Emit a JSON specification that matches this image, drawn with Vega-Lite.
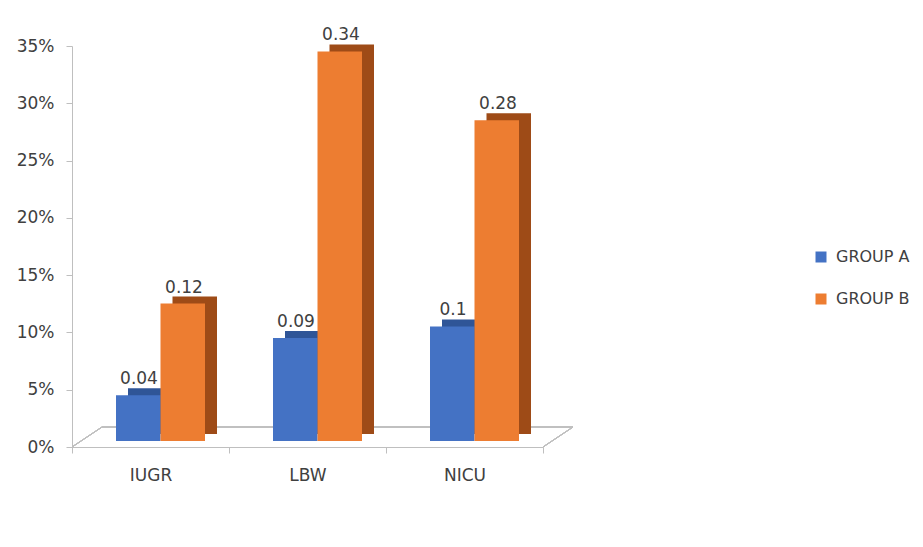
{
  "$schema": "https://vega.github.io/schema/vega-lite/v6.json",
  "autosize": "none",
  "width": 471,
  "height": 401,
  "padding": {"left": 72, "top": 46, "right": 380, "bottom": 100},
  "background": "white",
  "config": {
    "view": {"stroke": null},
    "font": "DejaVu Sans"
  },
  "data": {
    "values": [
      {"category": "IUGR", "group": "GROUP A", "value": 0.04},
      {"category": "IUGR", "group": "GROUP B", "value": 0.12},
      {"category": "LBW", "group": "GROUP A", "value": 0.09},
      {"category": "LBW", "group": "GROUP B", "value": 0.34},
      {"category": "NICU", "group": "GROUP A", "value": 0.1},
      {"category": "NICU", "group": "GROUP B", "value": 0.28}
    ]
  },
  "resolve": {"scale": {"xOffset": "independent"}},
  "encoding": {
    "x": {
      "field": "category", "type": "nominal", "sort": ["IUGR", "LBW", "NICU"],
      "scale": {"paddingInner": 0, "paddingOuter": 0},
      "axis": {
        "title": null, "labelAngle": 0, "labelFontSize": 17, "labelColor": "#404040",
        "domainColor": "#BFBFBF", "tickColor": "#BFBFBF", "tickSize": 6, "tickBand": "extent",
        "labelPadding": 14
      }
    },
    "y": {
      "field": "value", "type": "quantitative",
      "scale": {"domain": [0, 0.35]},
      "axis": {
        "title": null, "format": ".0%", "values": [0, 0.05, 0.1, 0.15, 0.2, 0.25, 0.3, 0.35],
        "grid": false, "labelFontSize": 17, "labelColor": "#404040",
        "domainColor": "#BFBFBF", "tickColor": "#BFBFBF", "tickSize": 6, "labelPadding": 12
      }
    }
  },
  "layer": [
    {
      "mark": {"type": "rule", "color": "#BFBFBF", "strokeWidth": 1, "xOffset": 30, "x2Offset": 30, "yOffset": -20, "y2Offset": -20},
      "encoding": {
        "x": {"datum": "IUGR", "type": "nominal", "bandPosition": 0},
        "x2": {"datum": "NICU", "bandPosition": 1},
        "y": {"datum": 0, "type": "quantitative"},
        "y2": {"datum": 0}
      }
    },
    {
      "mark": {"type": "rule", "color": "#BFBFBF", "strokeWidth": 1, "x2Offset": 30, "y2Offset": -20},
      "encoding": {
        "x": {"datum": "IUGR", "type": "nominal", "bandPosition": 0},
        "x2": {"datum": "IUGR", "bandPosition": 0},
        "y": {"datum": 0, "type": "quantitative"},
        "y2": {"datum": 0}
      }
    },
    {
      "mark": {"type": "rule", "color": "#BFBFBF", "strokeWidth": 1, "x2Offset": 30, "y2Offset": -20},
      "encoding": {
        "x": {"datum": "NICU", "type": "nominal", "bandPosition": 1},
        "x2": {"datum": "NICU", "bandPosition": 1},
        "y": {"datum": 0, "type": "quantitative"},
        "y2": {"datum": 0}
      }
    },
    {
      "mark": {"type": "bar", "yOffset": -13},
      "encoding": {
        "xOffset": {
          "field": "group", "type": "nominal",
          "scale": {"range": [56, 145], "paddingInner": 0, "paddingOuter": 0}
        },
        "color": {"condition": {"test": "datum.group === 'GROUP A'", "value": "#2F5597"}, "value": "#9E4B17"}
      }
    },
    {
      "mark": {"type": "bar", "yOffset": -6},
      "encoding": {
        "xOffset": {
          "field": "group", "type": "nominal",
          "scale": {"range": [44, 133], "paddingInner": 0, "paddingOuter": 0}
        },
        "color": {
          "field": "group", "type": "nominal",
          "scale": {"domain": ["GROUP A", "GROUP B"], "range": ["#4472C4", "#ED7D31"]},
          "legend": {
            "title": null, "orient": "none", "legendX": 741, "legendY": 203,
            "symbolType": "square", "symbolSize": 121, "symbolStrokeWidth": 0,
            "labelFontSize": 16, "labelColor": "#404040", "rowPadding": 26, "labelOffset": 7, "padding": 0
          }
        }
      }
    },
    {
      "mark": {"type": "text", "fontSize": 17, "color": "#404040", "baseline": "alphabetic", "dy": -17},
      "encoding": {
        "xOffset": {
          "field": "group", "type": "nominal",
          "scale": {"range": [67, 112], "padding": 0}
        },
        "text": {"field": "value", "type": "quantitative"}
      }
    }
  ]
}
